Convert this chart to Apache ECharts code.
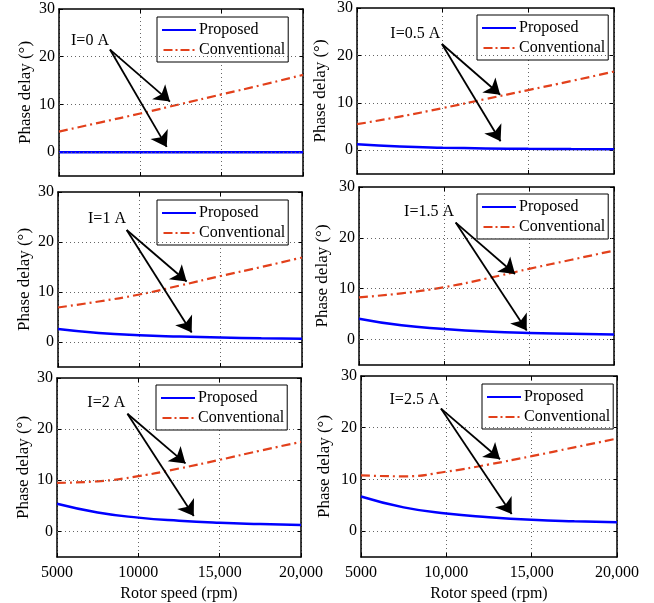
<!DOCTYPE html>
<html>
<head>
<meta charset="utf-8">
<script src="https://cdn.jsdelivr.net/npm/echarts@6.0.0/dist/echarts.min.js"></script>
<style>
  html, body { margin: 0; padding: 0; background: #fff; }
  #chart { width: 654px; height: 603px; }
</style>
</head>
<body>
<div id="chart"></div>
<script>
// rotor speed samples (rpm)
var speed = [5000, 7500, 10000, 12500, 15000, 17500, 20000];

// phase delay (deg), proposed method, one array per current
var proposed0 = [0, 0, 0, 0, 0, 0, 0];
var proposed05 = [1.25, 0.8, 0.55, 0.4, 0.3, 0.25, 0.2];
var proposed1 = [2.6, 1.8, 1.35, 1.1, 0.9, 0.75, 0.65];
var proposed15 = [4.1, 2.8, 2.1, 1.6, 1.3, 1.15, 1.0];
var proposed2 = [5.4, 3.7, 2.7, 2.1, 1.7, 1.45, 1.25];
var proposed25 = [6.7, 4.6, 3.4, 2.7, 2.2, 1.9, 1.7];

// phase delay (deg), conventional method
var conventional0 = [4.3, 6.2, 8.1, 10.1, 12.1, 14.1, 16.2];
var conventional05 = [5.5, 7.1, 8.9, 10.8, 12.7, 14.6, 16.6];
var conventional1 = [6.9, 8.1, 9.5, 11.3, 13.2, 15.0, 16.9];
var conventional15 = [8.3, 9.1, 10.3, 12.0, 13.9, 15.7, 17.5];
var conventional2 = [9.5, 9.8, 10.8, 12.3, 14.0, 15.8, 17.5];
var conventional25 = [10.8, 10.6, 11.5, 12.9, 14.5, 16.2, 17.9];

var currents = ['I=0 A', 'I=0.5 A', 'I=1 A', 'I=1.5 A', 'I=2 A', 'I=2.5 A'];
var yTicks = [0, 10, 20, 30];
var yGrid = [0, 10, 20];
var xTicksLeft = ['5000', '10000', '15,000', '20,000'];
var xTicksRight = ['5000', '10,000', '15,000', '20,000'];

var FONT = 'Liberation Serif';
var BLUE = '#0000ff';
var RED = '#e2401b';

// legend glyphs: solid line and dash-dot line
var ICON_SOLID = 'path://M0,0h34v2h-34z';
var ICON_DASHDOT = 'path://M0,0h9v2h-9z M12,0h2v2h-2z M17,0h9v2h-9z M29,0h2v2h-2z';

// layout of each panel (pixels) and where its annotation sits (data coords)
var panels = [
  { grid: [59, 9, 244, 167], legend: [157, 17], yGap: 25, bottom: false, ticks: xTicksLeft,
    prop: proposed0, conv: conventional0,
    text: [6905, 23.4], from: [8135, 21.5], to1: [11822, 10.6], to2: [11620, 1.1] },
  { grid: [357, 7, 257, 167], legend: [477, 15], yGap: 28, bottom: false, ticks: xTicksRight,
    prop: proposed05, conv: conventional05,
    text: [8400, 24.5], from: [9956, 22.4], to1: [13356, 11.7], to2: [13380, 1.9] },
  { grid: [58, 192, 244, 175], legend: [157, 200], yGap: 25, bottom: false, ticks: xTicksLeft,
    prop: proposed1, conv: conventional1,
    text: [8012, 24.6], from: [9222, 22.4], to1: [12910, 12.1], to2: [13217, 1.9] },
  { grid: [359, 187, 255, 178], legend: [477, 194], yGap: 28, bottom: false, ticks: xTicksRight,
    prop: proposed15, conv: conventional15,
    text: [9118, 25.1], from: [10688, 23], to1: [14176, 12.9], to2: [14865, 1.8] },
  { grid: [57, 378, 244, 180], legend: [156, 385], yGap: 25, bottom: true, ticks: xTicksLeft,
    prop: proposed2, conv: conventional2,
    text: [8031, 25.2], from: [9329, 23], to1: [12900, 13.3], to2: [13408, 3.0] },
  { grid: [361, 376, 256, 186], legend: [482, 384], yGap: 28, bottom: true, ticks: xTicksRight,
    prop: proposed25, conv: conventional25,
    text: [8134, 25.4], from: [9687, 23.7], to1: [13143, 13.9], to2: [13828, 3.3] }
];

function zip(xs, ys) {
  var out = [];
  for (var i = 0; i < xs.length; i++) out.push([xs[i], ys[i]]);
  return out;
}

var grids = [], xAxes = [], yAxes = [], series = [], legends = [];
var axisLine = { show: true, onZero: false, lineStyle: { color: '#000', width: 1.5 } };
var tick = { show: true, inside: true, length: 4, lineStyle: { color: '#000', width: 1 } };

panels.forEach(function (p, i) {
  grids.push({ left: p.grid[0], top: p.grid[1], width: p.grid[2], height: p.grid[3], containLabel: false });
  var labels = p.ticks;
  // bottom x axis
  xAxes.push({
    gridIndex: i, type: 'value', min: 5000, max: 20000, interval: 5000,
    axisLine: axisLine, axisTick: tick,
    axisLabel: {
      show: p.bottom, margin: 8, color: '#000', fontFamily: FONT, fontSize: 16,
      formatter: function (v) { return labels[Math.round((v - 5000) / 5000)]; }
    },
    splitLine: { show: true, lineStyle: { type: [1, 3], color: '#666', width: 1 } },
    name: p.bottom ? 'Rotor speed (rpm)' : '', nameLocation: 'middle', nameGap: 29,
    nameTextStyle: { color: '#000', fontFamily: FONT, fontSize: 16 }
  });
  // top x axis (box + inner ticks)
  xAxes.push({
    gridIndex: i, type: 'value', position: 'top', min: 5000, max: 20000, interval: 5000,
    axisLine: axisLine, axisTick: tick, axisLabel: { show: false }, splitLine: { show: false }
  });
  // left y axis
  yAxes.push({
    gridIndex: i, type: 'value', min: -5, max: 30,
    axisLine: axisLine,
    axisTick: { show: true, inside: true, length: 4, customValues: yTicks, lineStyle: { color: '#000' } },
    axisLabel: { customValues: yTicks, margin: 4, color: '#000', fontFamily: FONT, fontSize: 16 },
    splitLine: { show: false },
    name: 'Phase delay (°)', nameLocation: 'middle', nameGap: p.yGap, nameRotate: 90,
    nameTextStyle: { color: '#000', fontFamily: FONT, fontSize: 17 }
  });
  // right y axis
  yAxes.push({
    gridIndex: i, type: 'value', position: 'right', min: -5, max: 30,
    axisLine: axisLine,
    axisTick: { show: true, inside: true, length: 4, customValues: yTicks, lineStyle: { color: '#000' } },
    axisLabel: { show: false }, splitLine: { show: false }
  });

  var xi = 2 * i, yi = 2 * i;
  // dotted horizontal grid lines
  series.push({
    type: 'line', xAxisIndex: xi, yAxisIndex: yi, data: [], z: 1, silent: true,
    markLine: {
      silent: true, symbol: 'none', animation: false, label: { show: false },
      lineStyle: { type: [1, 3], color: '#666', width: 1 },
      data: yGrid.map(function (v) { return { yAxis: v }; })
    }
  });
  series.push({
    name: 'Conventional', type: 'line', xAxisIndex: xi, yAxisIndex: yi,
    data: zip(speed, p.conv), smooth: true, symbol: 'none', z: 3,
    lineStyle: { color: RED, width: 2.2, type: [9, 4, 2, 4] }, itemStyle: { color: RED }
  });
  series.push({
    name: 'Proposed', type: 'line', xAxisIndex: xi, yAxisIndex: yi,
    data: zip(speed, p.prop), smooth: true, symbol: 'none', z: 3,
    lineStyle: { color: BLUE, width: 2.5 }, itemStyle: { color: BLUE }
  });
  // annotation arrows + current label
  series.push({
    type: 'line', xAxisIndex: xi, yAxisIndex: yi, data: [], z: 5, silent: true,
    markLine: {
      silent: true, animation: false, symbol: ['none', 'arrow'], symbolSize: 15,
      label: { show: false },
      lineStyle: { type: 'solid', color: '#000', width: 1.8 },
      data: [
        [{ coord: p.from }, { coord: p.to1 }],
        [{ coord: p.from }, { coord: p.to2 }]
      ]
    },
    markPoint: {
      silent: true, animation: false,
      data: [{
        coord: p.text, symbol: 'rect', symbolSize: 1, itemStyle: { color: 'rgba(0,0,0,0)' },
        label: { show: true, position: 'inside', formatter: currents[i], color: '#000', fontFamily: FONT, fontSize: 16 }
      }]
    }
  });

  legends.push({
    data: [
      { name: 'Proposed', icon: ICON_SOLID },
      { name: 'Conventional', icon: ICON_DASHDOT }
    ],
    orient: 'vertical',
    left: p.legend[0], top: p.legend[1],
    backgroundColor: '#fff', borderColor: '#000', borderWidth: 1,
    padding: [3, 3, 2, 5], itemGap: 0, itemWidth: 34, itemHeight: 2,
    selectedMode: false,
    textStyle: { color: '#000', fontFamily: FONT, fontSize: 16, lineHeight: 20, padding: [0, 0, 0, -2] }
  });
});

var chart = echarts.init(document.getElementById('chart'), null, { renderer: 'canvas' });
chart.setOption({
  animation: false,
  backgroundColor: '#fff',
  grid: grids,
  xAxis: xAxes,
  yAxis: yAxes,
  legend: legends,
  series: series
});
</script>
</body>
</html>
